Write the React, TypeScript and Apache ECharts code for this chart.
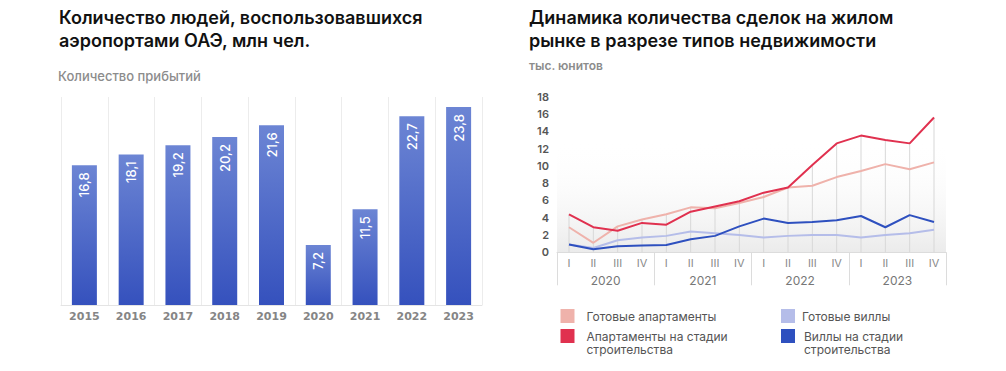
import React, { useEffect, useRef } from "react";
import * as echarts from "echarts";

// ---- Left chart data ----
const arrivalYears = ["2015", "2016", "2017", "2018", "2019", "2020", "2021", "2022", "2023"];
const arrivalValues = [16.8, 18.1, 19.2, 20.2, 21.6, 7.2, 11.5, 22.7, 23.8];

// ---- Right chart data ----
const dealYears = ["2020", "2021", "2022", "2023"];
const quarters = ["I", "II", "III", "IV"];
const readyApartments = [2.9, 1.1, 3.0, 3.8, 4.4, 5.2, 5.1, 5.7, 6.4, 7.5, 7.7, 8.7, 9.4, 10.2, 9.6, 10.4];
const offplanApartments = [4.4, 2.9, 2.5, 3.4, 3.2, 4.7, 5.3, 5.9, 6.9, 7.5, 10.1, 12.6, 13.5, 13.0, 12.6, 15.6];
const readyVillas = [0.9, 0.5, 1.4, 1.7, 1.9, 2.4, 2.2, 2.0, 1.7, 1.9, 2.0, 2.0, 1.7, 2.0, 2.2, 2.6];
const offplanVillas = [0.9, 0.35, 0.7, 0.8, 0.85, 1.5, 1.9, 3.0, 3.9, 3.4, 3.5, 3.7, 4.2, 2.9, 4.3, 3.5];
const yTicksRight = { min: 0, max: 18, interval: 2 };

const seriesNames = {
  readyApt: "Готовые апартаменты",
  offplanApt: "Апартаменты на стадии\nстроительства",
  readyVilla: "Готовые виллы",
  offplanVilla: "Виллы на стадии\nстроительства",
};

const colors = {
  readyApt: "#efb2ab",
  offplanApt: "#e0314f",
  readyVilla: "#b5bde9",
  offplanVilla: "#2e50bf",
};

export default function App() {
  const ref = useRef<HTMLDivElement>(null);

  useEffect(() => {
    document.body.style.margin = "0";
    if (!ref.current) return;
    const chart = echarts.init(ref.current, undefined, { renderer: "svg" });

    const categories = dealYears.flatMap((y) => quarters.map((q) => `${y}-${q}`));
    const dropLines = categories.map((_, i) =>
      Math.max(readyApartments[i], offplanApartments[i], readyVillas[i], offplanVillas[i])
    );

    const font = "Inter, 'Noto Sans', sans-serif";

    const legendBase = (name: string, left: number, top: number, padLeft: number, multi: boolean) => ({
      data: [{ name, icon: "rect" }],
      left,
      top,
      padding: 0,
      itemWidth: 14,
      itemHeight: 14,
      selectedMode: false,
      formatter: multi ? (n: string) => "\n" + n : undefined,
      textStyle: {
        fontFamily: font,
        fontSize: 12,
        color: "#555",
        lineHeight: 13,
        padding: [0, 0, 0, padLeft],
      },
    });

    chart.setOption({
      animation: false,
      title: [
        {
          text: "Количество людей, воспользовавшихся\nаэропортами ОАЭ, млн чел.",
          left: 59,
          top: 5.5,
          padding: 0,
          textStyle: { fontFamily: font, fontSize: 18, fontWeight: 600, color: "#111", lineHeight: 23 },
        },
        {
          text: "Количество прибытий",
          left: 58,
          top: 68,
          padding: 0,
          textStyle: { fontFamily: font, fontSize: 13, fontWeight: 500, color: "#8c8c8c", lineHeight: 16 },
        },
        {
          text: "Динамика количества сделок на жилом\nрынке в разрезе типов недвижимости",
          left: 529,
          top: 5.5,
          padding: 0,
          textStyle: { fontFamily: font, fontSize: 18, fontWeight: 600, color: "#111", lineHeight: 23 },
        },
        {
          text: "тыс. юнитов",
          left: 529,
          top: 58,
          padding: 0,
          textStyle: { fontFamily: font, fontSize: 12, fontWeight: 600, color: "#8c8c8c", lineHeight: 14 },
        },
      ],
      legend: [
        legendBase(seriesNames.readyApt, 560.5, 309, 7, false),
        legendBase(seriesNames.offplanApt, 560.5, 316.5, 7, true),
        legendBase(seriesNames.readyVilla, 781, 309, 2, false),
        legendBase(seriesNames.offplanVilla, 781, 316.5, 4, true),
      ],
      grid: [
        { left: 61, right: 524, top: 97, bottom: 66 },
        { left: 569, right: 72, top: 96.7, bottom: 118.7 },
        {
          left: 557, right: 60, top: 142, bottom: 118.7, show: true, borderWidth: 0,
          backgroundColor: new echarts.graphic.LinearGradient(0, 0, 0, 1, [
            { offset: 0, color: "rgba(255,255,255,0)" },
            { offset: 1, color: "#ebebeb" },
          ]),
        },
      ],
      xAxis: [
        {
          gridIndex: 0,
          type: "category",
          data: arrivalYears,
          boundaryGap: true,
          axisLine: { show: true, lineStyle: { color: "#e4e4e4", width: 1 } },
          axisTick: { show: false },
          splitLine: { show: true, interval: 0, lineStyle: { color: "#ececec", width: 1 } },
          axisLabel: { margin: 6, color: "#858585", fontSize: 11, fontWeight: 600, fontFamily: "'DejaVu Sans', sans-serif" },
        },
        {
          gridIndex: 1,
          type: "category",
          data: categories,
          boundaryGap: false,
          axisLine: { show: false },
          axisTick: { show: false },
          axisLabel: {
            interval: 0,
            margin: 5,
            color: "#8a8a8a",
            fontSize: 11,
            fontFamily: font,
            formatter: (v: string) => v.split("-")[1],
          },
        },
        {
          gridIndex: 2,
          type: "category",
          data: dealYears,
          boundaryGap: true,
          position: "bottom",
          axisLine: { show: true, lineStyle: { color: "#dcdcdc", width: 1 } },
          axisTick: { show: true, interval: 0, length: 33, lineStyle: { color: "#dcdcdc", width: 1 } },
          axisLabel: { margin: 22, color: "#777", fontSize: 12, fontFamily: font },
        },
      ],
      yAxis: [
        { gridIndex: 0, type: "value", min: 0, max: 25, show: false },
        {
          gridIndex: 1,
          type: "value",
          min: yTicksRight.min,
          max: yTicksRight.max,
          interval: yTicksRight.interval,
          splitLine: { show: false },
          axisLine: { show: false },
          axisTick: { show: false },
          axisLabel: { margin: 20, color: "#555", fontSize: 11, fontWeight: 600, fontFamily: font },
        },
        { gridIndex: 2, type: "value", show: false },
      ],
      series: [
        {
          type: "bar",
          xAxisIndex: 0,
          yAxisIndex: 0,
          data: arrivalValues,
          barWidth: 25,
          itemStyle: {
            color: new echarts.graphic.LinearGradient(0, 0, 0, 1, [
              { offset: 0, color: "#6c85d4" },
              { offset: 1, color: "#3551bd" },
            ]),
          },
          label: {
            show: true,
            position: "insideTop",
            rotate: 90,
            align: "right",
            verticalAlign: "middle",
            distance: 7,
            color: "#fff",
            fontSize: 13,
            fontWeight: 500,
            fontFamily: font,
            formatter: (p: any) => String(p.value).replace(".", ","),
          },
        },
        {
          type: "bar",
          name: "drop",
          xAxisIndex: 1,
          yAxisIndex: 1,
          data: dropLines,
          barWidth: 1,
          silent: true,
          itemStyle: { color: "#d8d8d8" },
          z: 1,
        },
        {
          type: "line",
          name: seriesNames.readyVilla,
          xAxisIndex: 1,
          yAxisIndex: 1,
          data: readyVillas,
          symbol: "none",
          lineStyle: { width: 2, color: colors.readyVilla },
          itemStyle: { color: colors.readyVilla },
          z: 3,
        },
        {
          type: "line",
          name: seriesNames.readyApt,
          xAxisIndex: 1,
          yAxisIndex: 1,
          data: readyApartments,
          symbol: "none",
          lineStyle: { width: 2, color: colors.readyApt },
          itemStyle: { color: colors.readyApt },
          z: 4,
        },
        {
          type: "line",
          name: seriesNames.offplanVilla,
          xAxisIndex: 1,
          yAxisIndex: 1,
          data: offplanVillas,
          symbol: "none",
          lineStyle: { width: 2, color: colors.offplanVilla },
          itemStyle: { color: colors.offplanVilla },
          z: 5,
        },
        {
          type: "line",
          name: seriesNames.offplanApt,
          xAxisIndex: 1,
          yAxisIndex: 1,
          data: offplanApartments,
          symbol: "none",
          lineStyle: { width: 2, color: colors.offplanApt },
          itemStyle: { color: colors.offplanApt },
          z: 6,
        },
      ],
    });

    return () => chart.dispose();
  }, []);

  return <div ref={ref} style={{ width: 1006, height: 371 }} />;
}
